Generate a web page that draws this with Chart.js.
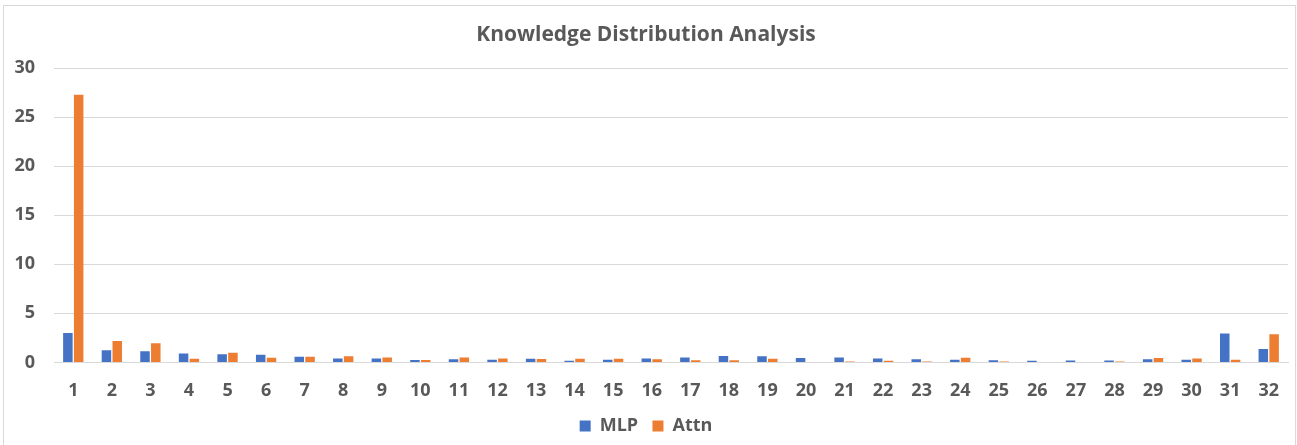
<!DOCTYPE html>
<html>
<head>
<meta charset="utf-8">
<script src="https://cdn.jsdelivr.net/npm/chart.js@4"></script>
<style>
  body { margin: 0; background: #fff; }
  #wrap { position: absolute; left: 3px; top: 5px; width: 1293px; height: 441px; border: 1px solid #d9d9d9; box-sizing: border-box; }
  #chart { display: block; }
</style>
</head>
<body>
<div id="wrap"><canvas id="chart" width="1291" height="439"></canvas></div>
<script>
const layers = ["1","2","3","4","5","6","7","8","9","10","11","12","13","14","15","16","17","18","19","20","21","22","23","24","25","26","27","28","29","30","31","32"];
const mlp = [3.0,1.23,1.13,0.92,0.82,0.79,0.58,0.41,0.41,0.24,0.31,0.27,0.38,0.17,0.27,0.41,0.51,0.65,0.62,0.44,0.51,0.41,0.31,0.27,0.21,0.17,0.2,0.2,0.31,0.27,2.94,1.37];
const attn = [27.3,2.19,1.95,0.38,0.99,0.48,0.58,0.62,0.51,0.24,0.51,0.41,0.34,0.38,0.38,0.31,0.21,0.21,0.38,0,0.1,0.17,0.1,0.48,0.1,0.03,0,0.1,0.44,0.41,0.27,2.87];
const yTicks = [0,5,10,15,20,25,30];

const textColor = '#595959';
const chart = document.querySelector("#chart").getContext("2d");

// clustered bar chart
new Chart(chart, {
  type: 'bar',
  data: {
    labels: layers,
    datasets: [
      { label: 'MLP', data: mlp, backgroundColor: '#4472C4', borderWidth: 0, categoryPercentage: 0.56, barPercentage: 0.88 },
      { label: 'Attn', data: attn, backgroundColor: '#ED7D31', borderWidth: 0, categoryPercentage: 0.56, barPercentage: 0.88 }
    ]
  },
  options: {
    responsive: false,
    animation: false,
    layout: { padding: { left: 0, right: 7, top: 12, bottom: 0 } },
    plugins: {
      title: {
        display: true,
        text: 'Knowledge Distribution Analysis',
        color: textColor,
        font: { family: 'Open Sans', size: 21, weight: 'bold' },
        padding: { top: 4, bottom: 21 }
      },
      legend: {
        position: 'bottom',
        labels: {
          color: textColor,
          font: { family: 'Open Sans', size: 18, weight: 'bold' },
          boxWidth: 11, boxHeight: 11, padding: 5,
          // small padding keeps the legend low, so widen the gap after the first item
          generateLabels: c => Chart.defaults.plugins.legend.labels.generateLabels(c)
            .map((item, i) => i === 0 ? { ...item, text: item.text + '  ' } : item)
        }
      },
      tooltip: { enabled: false }
    },
    scales: {
      x: {
        grid: { display: false },
        border: { color: '#d9d9d9' },
        ticks: { color: textColor, font: { family: 'Open Sans', size: 18, weight: 'bold' }, maxRotation: 0, autoSkip: false, padding: 10 }
      },
      y: {
        min: 0, max: 30,
        afterBuildTicks: axis => { axis.ticks = yTicks.map(v => ({ value: v })); },
        afterFit: axis => { axis.width = 50; },
        grid: { color: '#d9d9d9', drawTicks: false },
        border: { display: false },
        ticks: { color: textColor, font: { family: 'Open Sans', size: 18, weight: 'bold' }, padding: 19 }
      }
    }
  }
});
</script>
</body>
</html>
